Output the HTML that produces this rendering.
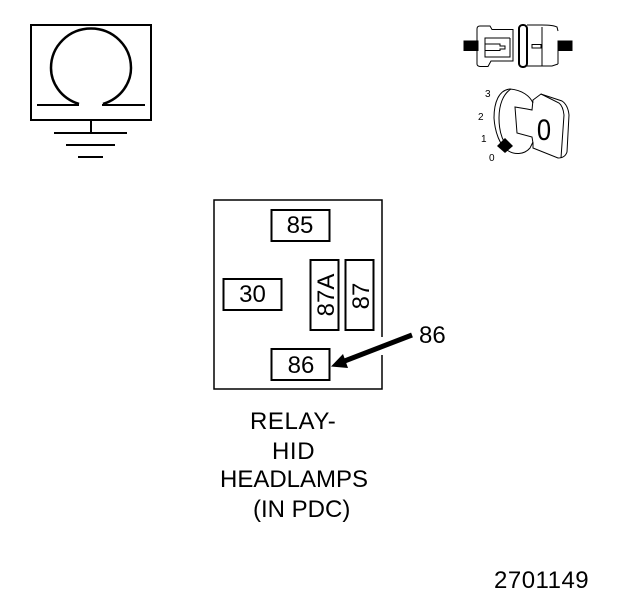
<!DOCTYPE html>
<html><head><meta charset="utf-8"><style>
html,body{margin:0;padding:0;background:#fff}
svg{display:block}
text{font-family:"Liberation Sans",Arial,sans-serif;fill:#000}
</style></head><body>
<svg width="624" height="600" viewBox="0 0 624 600" xmlns="http://www.w3.org/2000/svg">
<g fill="none" stroke="#000" stroke-width="2">
<rect x="31" y="25" width="120" height="95"/>
<path d="M79 104 C60 98 51 82 51 68 C51 46 69 28.500 91 28.500 C113 28.500 131 46 131 68 C131 82 122 98 103 104" stroke-width="2.500"/>
<path d="M37 105H79M102 105H145M91 120V133M54 133H127M66 145H115M78 157H103"/>
</g>
<g fill="none" stroke="#000" stroke-width="1">
<rect x="464" y="41" width="14" height="9.500" fill="#000"/>
<rect x="558" y="41" width="14" height="9.500" fill="#000"/>
<path d="M477 64V29Q477 26 480 26H490L492 29.500H513V61H491L488 66.500H480Q477 66 477 64"/>
<path d="M510 38H485V57H510V38M485 44H500V46H505V49H500V50.500H485"/>
<rect x="519" y="25" width="8" height="42" rx="3.500" stroke-width="2"/>
<path d="M527 25H542Q553 25 557 27L558 31M542 27V66M527 66H552L558 64M558 51V64"/>
<rect x="532" y="44.500" width="9" height="3.500"/>
<path d="M533 103C530 96 522 90 510 89C499 90 494 102 494 118C495 133 500 145 507 150C514 155 524 155 530 148L533 142"/>
<path d="M511 89C503 94 499 105 499 118C499 130 502 140 507 146"/>
<path d="M515 107L527 109L532 110L533 100L541 94L562 101Q568 105 569 115L567 152Q565 158 558 158L533 148V143L532 137L517 133Z"/>
<path d="M541 94L559 103Q563 106 564 115L561 158"/>
</g>
<path d="M505 138L513 146L505 153L497 146Z" fill="#000"/>
<g font-size="10">
<text x="485" y="97">3</text>
<text x="478" y="120">2</text>
<text x="481" y="142">1</text>
<text x="489" y="161">0</text>
</g>
<text transform="translate(544,140) scale(.85,1)" font-size="30" text-anchor="middle">0</text>
<g fill="none" stroke="#000">
<path d="M382 337V200H214V389H382V355" stroke-width="1.500"/>
<g stroke-width="2">
<rect x="271.500" y="210" width="58" height="31"/>
<rect x="223.500" y="279" width="58" height="31"/>
<rect x="310.500" y="260" width="28" height="70"/>
<rect x="345.500" y="260" width="28" height="70"/>
<rect x="271.500" y="349" width="58" height="31"/>
</g>
<path d="M412 335L342 362" stroke-width="5"/>
</g>
<path d="M331 366.500L343 354L348 368Z" fill="#000"/>
<g font-size="24">
<text x="300" y="233" text-anchor="middle">85</text>
<text x="252.500" y="302" text-anchor="middle">30</text>
<text x="301" y="373" text-anchor="middle">86</text>
<text x="419" y="343">86</text>
<text transform="translate(334,295) rotate(-90)" text-anchor="middle">87A</text>
<text transform="translate(369,296) rotate(-90)" text-anchor="middle">87</text>
<text x="250" y="429" letter-spacing=".6">RELAY-</text>
<text x="272" y="459" letter-spacing=".6">HID</text>
<text x="220" y="487">HEADLAMPS</text>
<text x="253" y="517">(IN PDC)</text>
<text x="494" y="588" letter-spacing=".5">2701149</text>
</g>
</svg>
</body></html>
